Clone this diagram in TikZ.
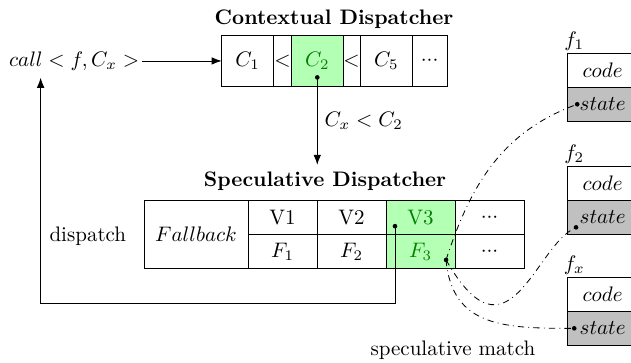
\documentclass[tikz,border=0pt]{standalone}
\usepackage{amsmath}
\usetikzlibrary{arrows.meta,calc,positioning}
\definecolor{hitgreen}{RGB}{179,255,179}
\definecolor{hittext}{RGB}{0,128,0}
\definecolor{stategray}{RGB}{192,192,192}
\newcommand{\celldots}{$\mathord{\cdot}\mathord{\cdot}\mathord{\cdot}$}

\begin{document}
\begin{tikzpicture}[
    cell/.style={draw, minimum height=0.85cm, inner sep=0pt, outer sep=0pt},
    half/.style={draw, minimum width=1.155cm, minimum height=0.575cm, inner sep=0pt, outer sep=0pt},
    fnbox/.style={draw, minimum width=1.19cm, minimum height=0.57cm, inner sep=0pt, outer sep=0pt},
    fnlabel/.style={anchor=south, xshift=0.12cm, inner sep=1pt},
    hit/.style={fill=hitgreen, text=hittext},
    title/.style={font=\bfseries},
    link/.style={-{Latex}},
    match/.style={dashdotted}
  ]
  \useasboundingbox (0,0) rectangle (10.56,6.06);

  % contextual dispatcher
  \node[title] (ctitle) at (5.59,5.74) {Contextual Dispatcher};
  \node[cell, minimum width=0.87cm] (c1) at (4.145,5.04) {$C_1$};
  \node[cell, minimum width=0.30cm, right=0pt of c1] (lt1) {$<$};
  \node[cell, hit, minimum width=0.86cm, right=0pt of lt1] (c2) {$C_2$};
  \node[cell, minimum width=0.29cm, right=0pt of c2] (lt2) {$<$};
  \node[cell, minimum width=0.87cm, right=0pt of lt2] (c5) {$C_5$};
  \node[cell, minimum width=0.58cm, right=0pt of c5] (cdots) {\celldots};

  \node (call) at (1.24,5.04) {$call < f, C_x >$};

  % speculative dispatcher
  \node[title] (stitle) at (5.44,3.02) {Speculative Dispatcher};
  \node[draw, minimum width=1.74cm, minimum height=1.15cm, inner sep=0pt, outer sep=0pt] (fb) at (3.28,2.135) {$Fallback$};
  \node[half, anchor=north west] (v1) at (fb.north east) {V1};
  \node[half, right=0pt of v1] (v2) {V2};
  \node[half, hit, right=0pt of v2] (v3) {V3};
  \node[half, right=0pt of v3] (vdots) {\celldots};
  \node[half, below=0pt of v1] (f1) {$F_1$};
  \node[half, below=0pt of v2] (f2) {$F_2$};
  \node[half, hit, below=0pt of v3] (f3) {$F_3$};
  \node[half, below=0pt of vdots] (fdots) {\celldots};

  \node (disp) at (1.47,2.10) {dispatch};
  \node (smatch) at (7.58,0.205) {speculative match};

  % functions
  \node[fnbox, anchor=north west, label={[fnlabel]north west:$f_1$}] (code1) at (9.49,5.17) {$code$};
  \node[fnbox, fill=stategray, below=0pt of code1] (state1) {$state$};
  \node[fnbox, anchor=north west, label={[fnlabel]north west:$f_2$}] (code2) at (9.49,3.28) {$code$};
  \node[fnbox, fill=stategray, below=0pt of code2] (state2) {$state$};
  \node[fnbox, anchor=north west, label={[fnlabel]north west:$f_x$}] (codex) at (9.49,1.42) {$code$};
  \node[fnbox, fill=stategray, below=0pt of codex] (statex) {$state$};

  % dots
  \coordinate (c2hit) at ($(c2.south)+(0,0.15)$);
  \coordinate (v3hit) at ($(v3.south west)+(0.15,0.14)$);
  \coordinate (f3hit) at ($(f3.south east)+(-0.15,0.15)$);
  \coordinate (s1) at ($(state1.west)+(0.17,0)$);
  \coordinate (s2) at ($(state2.west)+(0.15,-0.17)$);
  \coordinate (sx) at ($(statex.west)+(0.12,0)$);
  \foreach \d in {c2hit,v3hit,f3hit,s1,s2,sx}
    \fill (\d) circle (1.1pt);

  % connectors
  \draw[link] ([xshift=-0.07cm]call.east) -- (call.east -| c1.west);
  \draw[link] (c2hit) -- (c2hit |- stitle.north) node[midway, right] {$C_x < C_2$};
  \coordinate (back) at (0.68,0.99);
  \draw[link] (v3hit) |- (back) -- (back |- call.south);
  \draw[match] (f3hit) to[out=72, in=200] (s1);
  \draw[match] (f3hit) .. controls +(1.05,-1.84) and +(-0.69,-0.30) .. (s2);
  \draw[match] (f3hit) to[out=-85, in=180, looseness=1.2] (sx);
\end{tikzpicture}
\end{document}
